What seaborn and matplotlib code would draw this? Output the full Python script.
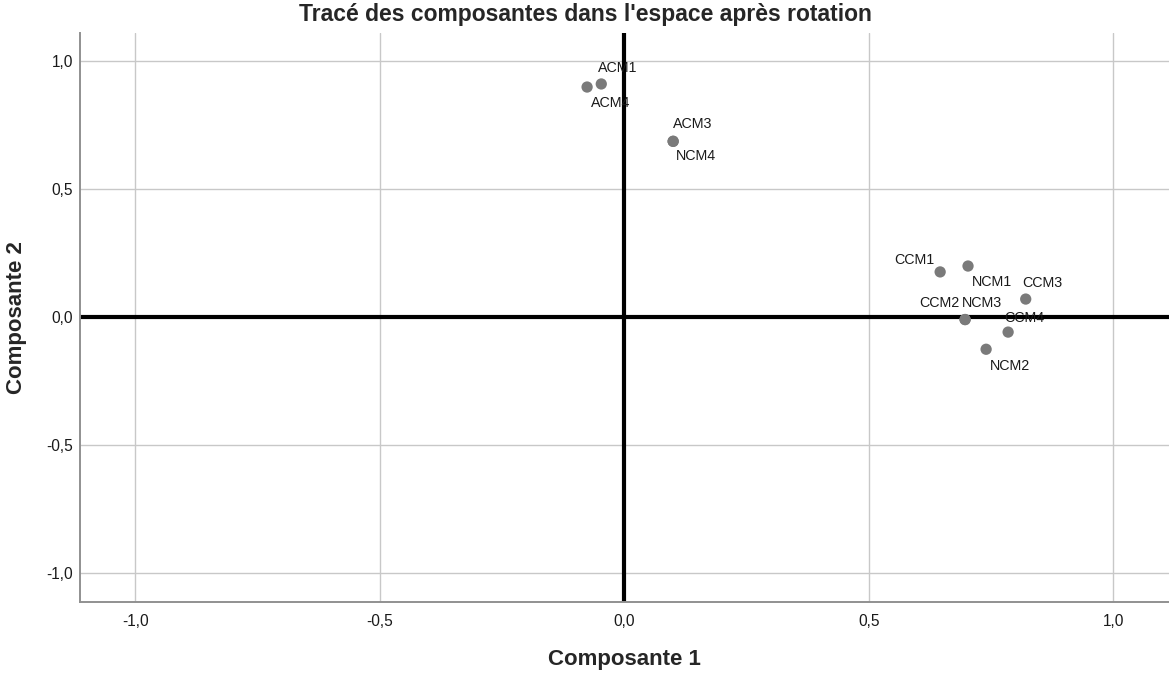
import matplotlib
matplotlib.use("Agg")
import matplotlib.pyplot as plt
import seaborn as sns
import pandas as pd
from matplotlib.ticker import FuncFormatter, MultipleLocator

# Data (loadings after rotation)
labels = ["ACM1", "ACM4", "ACM3", "NCM4", "CCM1", "NCM1", "CCM3", "CCM2", "NCM3", "CCM4", "NCM2"]
comp1 = [-0.047, -0.076, 0.100, 0.100, 0.646, 0.703, 0.821, 0.697, 0.697, 0.785, 0.740]
comp2 = [0.910, 0.898, 0.686, 0.686, 0.176, 0.199, 0.070, -0.010, -0.010, -0.059, -0.126]
# label offsets in pixels (dx, dy; dy positive = up)
label_dx = [16, 23.5, 20, 23, -25.5, 23.5, 16.5, -25.5, 16.5, 16, 23.5]
label_dy = [16, -16, 17, -15, 12, -16, 16, 17, 17, 14, -17]

df = pd.DataFrame({"Composante 1": comp1, "Composante 2": comp2, "label": labels})

sns.set_theme(style="white")
plt.rcParams['font.family'] = ['Liberation Sans', 'DejaVu Sans']

fig = plt.figure(figsize=(11.69, 6.75), dpi=100)
ax = fig.add_axes([80/1169, 73/675, 1 - 80/1169, (602-33)/675])

ax.set_xlim(-1.113, 1.114)
ax.set_ylim(-1.113, 1.109)
ax.xaxis.set_major_locator(MultipleLocator(0.5))
ax.yaxis.set_major_locator(MultipleLocator(0.5))
ax.grid(True, color="#c8c8c8", linewidth=1.0)
ax.set_axisbelow(True)

ax.axvline(0, color="black", linewidth=3.0, zorder=2)
ax.axhline(0, color="black", linewidth=3.0, zorder=2)

sns.scatterplot(data=df, x="Composante 1", y="Composante 2", ax=ax,
                color="#7a7a7a", s=66, edgecolor="none", zorder=3, legend=False)

for lab, x, y, dx, dy in zip(labels, comp1, comp2, label_dx, label_dy):
    ax.annotate(lab, (x, y), xytext=(dx * 0.72, dy * 0.72), textcoords="offset points",
                ha="center", va="center", fontsize=10.3, color="#1a1a1a", zorder=4)

fmt = FuncFormatter(lambda v, p: f"{v:.1f}".replace(".", ",").replace("-0,0", "0,0"))
ax.xaxis.set_major_formatter(fmt)
ax.yaxis.set_major_formatter(fmt)
ax.tick_params(axis="x", labelsize=11.2, colors="#1a1a1a", length=0, pad=8.5)
ax.tick_params(axis="y", labelsize=11.2, colors="#1a1a1a", length=0, pad=5)

for side in ["top", "right"]:
    ax.spines[side].set_visible(False)
for side in ["left", "bottom"]:
    ax.spines[side].set_color("#909090")
    ax.spines[side].set_linewidth(1.4)

ax.set_xlabel("Composante 1", fontsize=16, fontweight="bold")
ax.set_ylabel("Composante 2", fontsize=16, fontweight="bold")
ax.xaxis.label.set_va("center")
ax.yaxis.label.set_va("center")
ax.xaxis.set_label_coords(0.5, (602 - 660) / 569)
ax.yaxis.set_label_coords((17 - 80) / 1089, 0.5)

fig.text(585 / 1169, 1 - 14 / 675, "Tracé des composantes dans l'espace après rotation",
         ha="center", va="center", fontsize=16.5, fontweight="bold")

fig.savefig("out.png", dpi=100)
